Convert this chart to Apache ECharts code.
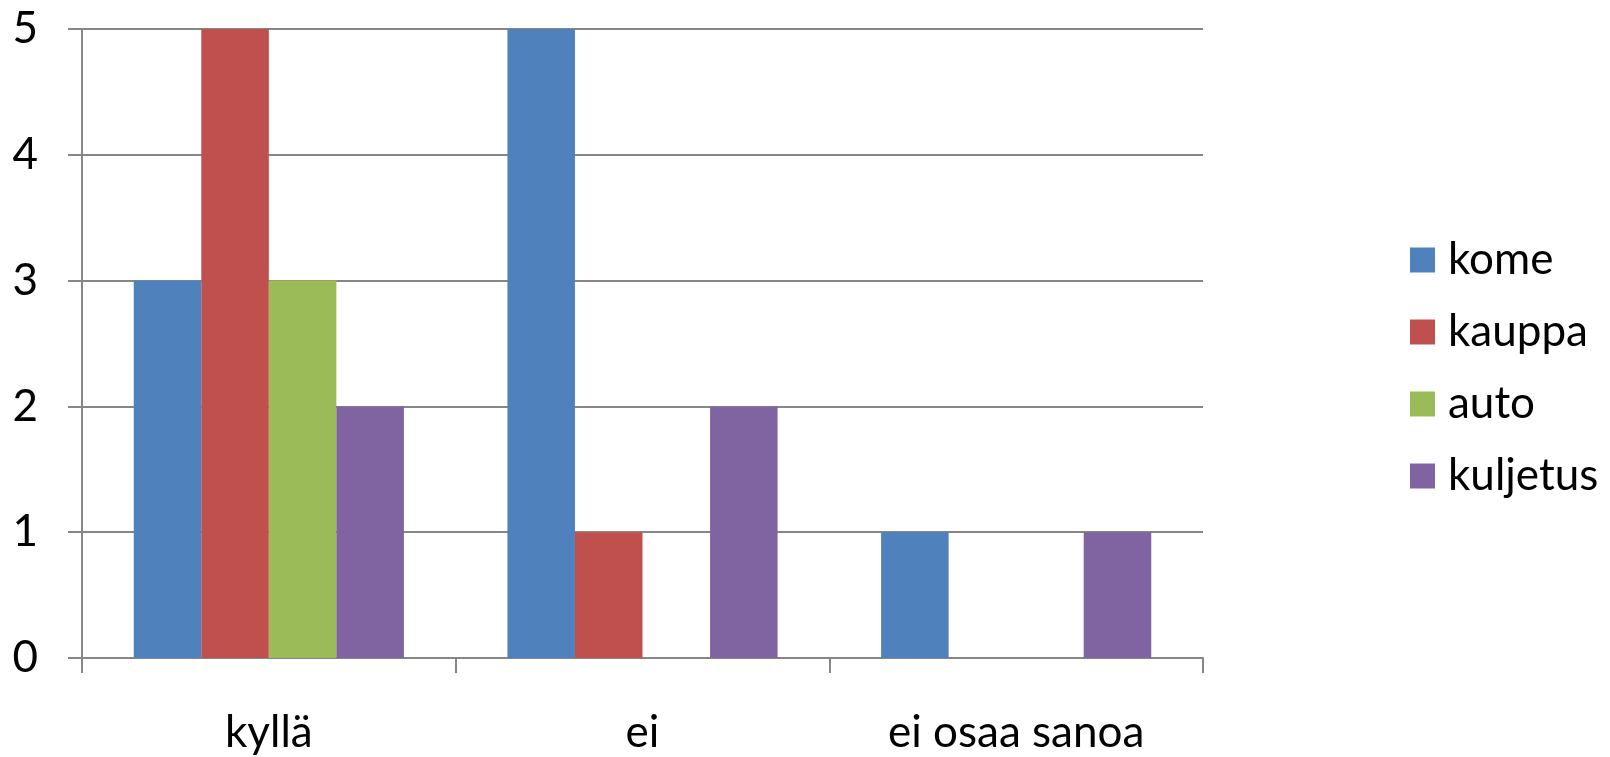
<!DOCTYPE html>
<html>
<head>
<meta charset="utf-8">
<script src="https://cdn.jsdelivr.net/npm/echarts@6/dist/echarts.min.js"></script>
<style>html,body{margin:0;padding:0;background:#fff}#c{width:1610px;height:757px}</style>
</head>
<body>
<div id="c"></div>
<script>
const categories = ['kyllä', 'ei', 'ei osaa sanoa'];
const seriesNames = ['kome', 'kauppa', 'auto', 'kuljetus'];
const kome = [3, 5, 1];
const kauppa = [5, 1, 0];
const auto = [3, 0, 0];
const kuljetus = [2, 2, 1];
const yTicks = [0, 1, 2, 3, 4, 5];

const colors = ['#4F81BD', '#C0504D', '#9BBB59', '#8064A2'];
const values = [kome, kauppa, auto, kuljetus];
const font = 'Lato, "Open Sans", sans-serif';
const chart = echarts.init(document.getElementById('c'));
chart.setOption({
  animation: false,
  color: colors,
  grid: { left: 82, right: 407, top: 29, bottom: 99, containLabel: false },
  legend: {
    orient: 'vertical', left: 1405, top: 233,
    itemWidth: 25, itemHeight: 25, itemGap: 28, icon: 'rect',
    data: seriesNames,
    textStyle: { fontFamily: font, fontSize: 44, color: '#000', lineHeight: 44, padding: [0, 0, 0, 8] }
  },
  xAxis: {
    type: 'category', data: categories,
    axisLine: { lineStyle: { color: '#868686', width: 2 } },
    axisTick: { show: true, length: 15, alignWithLabel: false, lineStyle: { color: '#868686', width: 2 } },
    axisLabel: { fontFamily: font, fontSize: 44, color: '#000', margin: 53 }
  },
  yAxis: {
    type: 'value', min: yTicks[0], max: yTicks[yTicks.length - 1], interval: 1,
    axisLine: { show: true, lineStyle: { color: '#868686', width: 2 } },
    axisTick: { show: true, length: 14, lineStyle: { color: '#868686', width: 2 } },
    splitLine: { show: true, lineStyle: { color: '#868686', width: 2 } },
    axisLabel: { fontFamily: font, fontSize: 44, color: '#000', margin: 44 }
  },
  series: seriesNames.map((n, i) => ({
    name: n, type: 'bar', data: values[i],
    barGap: '0%', barCategoryGap: '27.7%',
    itemStyle: { color: colors[i] }
  }))
});
</script>
</body>
</html>
